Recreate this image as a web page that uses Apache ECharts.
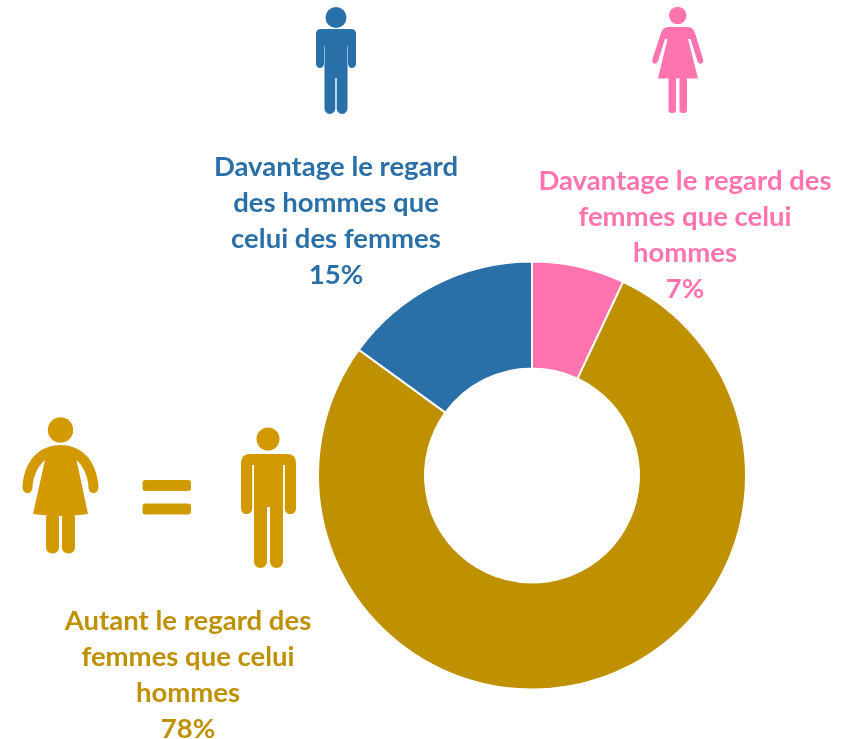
<!DOCTYPE html>
<html><head><meta charset="utf-8">
<style>html,body{margin:0;padding:0;background:#fff}#c{width:854px;height:739px}</style>
<script src="https://cdn.jsdelivr.net/npm/echarts@6/dist/echarts.min.js"></script>
</head><body><div id="c"></div>
<script>
const categories = ['Davantage le regard des\nfemmes que celui\nhommes', 'Autant le regard des\nfemmes que celui\nhommes', 'Davantage le regard\ndes hommes que\ncelui des femmes'];
const values = [7, 78, 15];
const sliceColors = ['#FF73AE', '#BF9000', '#2970A8'];
const GOLD_ICON = '#D29A00', BLUE = '#2970A8', PINK = '#FF73AE';

const chart = echarts.init(document.getElementById('c'), null, {renderer:'canvas'});

function label(i, x, y){
  return {type:'text', silent:true, z:10, style:{
    text: categories[i] + '\n' + values[i] + '%',
    x:x, y:y, align:'center', verticalAlign:'top',
    font:'bold 27.5px Lato', lineHeight:36, fill:sliceColors[i]
  }};
}
function circle(cx,cy,r,fill){return {type:'circle',shape:{cx,cy,r},style:{fill}};}
function rrect(x1,y1,x2,y2,r,fill){return {type:'rect',shape:{x:x1,y:y1,width:x2-x1,height:y2-y1,r},style:{fill}};}
let shapeId = 0;
function path(d,fill){
  const name = 'iconShape' + (shapeId++);
  echarts.graphic.registerShape(name, echarts.graphic.extendPath(d, {}));
  return {type:name,style:{fill}};
}
// round cap going right-to-left, ending at (x2, bottom - r)
function cap(x1,x2,bottom){
  const r=(x1-x2)/2, m=(x1+x2)/2, y=bottom-r, k=0.55*r;
  return `L${x1} ${y} C${x1} ${y+k} ${m+k} ${bottom} ${m} ${bottom} C${m-k} ${bottom} ${x2} ${y+k} ${x2} ${y}`;
}
function man(c, p){
  return [
    circle(p.hx,p.hy,p.hr,c),
    path(`M${p.l+p.rad} ${p.top} L${p.r-p.rad} ${p.top} Q${p.r} ${p.top} ${p.r} ${p.top+p.rad} ${cap(p.r,p.r-p.aw,p.armB)} L${p.r-p.aw} ${p.gapT} L${p.tr} ${p.gapT} ${cap(p.tr,p.tr-p.lw,p.bot)} L${p.tr-p.lw} ${p.legT} L${p.tl+p.lw} ${p.legT} ${cap(p.tl+p.lw,p.tl,p.bot)} L${p.tl} ${p.gapT} L${p.l+p.aw} ${p.gapT} ${cap(p.l+p.aw,p.l,p.armB)} L${p.l} ${p.top+p.rad} Q${p.l} ${p.top} ${p.l+p.rad} ${p.top} Z`, c)
  ];
}
const icons = [
  ...man(BLUE,{hx:336,hy:17.5,hr:10.5,l:316,r:356,top:29,rad:5,aw:8,armB:68,gapT:46,tl:324.5,tr:347.5,lw:10.8,legT:78,bot:114}),
  ...man(GOLD_ICON,{hx:268,hy:439,hr:11.5,l:241,r:296,top:454,rad:9,aw:11.2,armB:514,gapT:465,tl:254,tr:283,lw:13,legT:507,bot:568}),
  circle(60.5,430,12.7,GOLD_ICON),
  path(`M60.5 445 C82 445 97 461 98.5 487 C98.5 495 88.5 495 88.5 487 C88 476 83 466 76.5 460 L88 514 Q60.5 518 33 514 L45 460 C38 466 33 476 32.5 487 C32.5 495 22.5 495 22.5 487 C24 461 39 445 60.5 445 Z`,GOLD_ICON),
  rrect(46,512,59,553.5,6,GOLD_ICON),
  rrect(62,512,75,553.5,6,GOLD_ICON),
  rrect(142.5,480,191,491,3,'#CF9B00'),
  rrect(142.5,503.5,191,514.5,3,'#CF9B00'),
  circle(677.7,15.5,8.7,PINK),
  path(`M668 27 L688 27 Q693 27 695 33 L703 59 C704.5 64 699 65.5 697.5 61 L690.5 39 L688 39 L698 78.5 L658 78.5 L667.5 39 L665 39 L658 61 C656 65.5 651 64 652.5 59 L661 33 Q663 27 668 27 Z`,PINK),
  rrect(668.5,77,676,113,3,PINK),
  rrect(679.5,77,687,113,3,PINK)
].map(o=>Object.assign(o,{silent:true}));

chart.setOption({
  animation:false,
  backgroundColor:'#fff',
  color:sliceColors,
  series:[{
    type:'pie',
    center:[532,475.5],
    radius:[107,214],
    startAngle:90,
    clockwise:true,
    label:{show:false},
    labelLine:{show:false},
    itemStyle:{borderColor:'#fff',borderWidth:2},
    data:categories.map((n,i)=>({name:n,value:values[i]}))
  }],
  graphic:[...icons, label(2,336,149.5), label(0,685,163), label(1,188,603.5)]
});
</script></body></html>
